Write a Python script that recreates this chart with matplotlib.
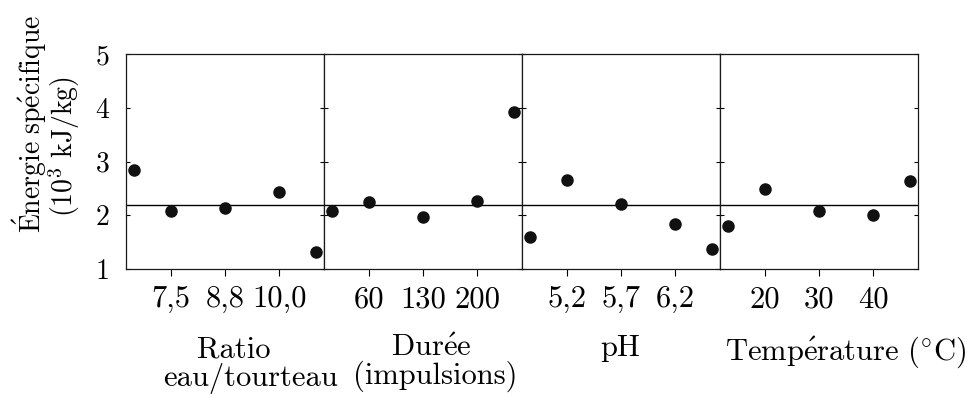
import matplotlib
matplotlib.use('Agg')
import matplotlib.pyplot as plt

plt.rcParams['mathtext.fontset'] = 'cm'
plt.rcParams['font.family'] = ['cmr10', 'DejaVu Serif']
plt.rcParams['axes.unicode_minus'] = False
plt.rcParams['axes.formatter.use_mathtext'] = True

# ---- data ----
levels = [-1.682, -1.0, 0.0, 1.0, 1.682]          # coded factor levels
tick_positions = [-1.0, 0.0, 1.0]
ratio_ticks = ['7,5', '8,8', '10,0']
duree_ticks = ['60', '130', '200']
ph_ticks = ['5,2', '5,7', '6,2']
temp_ticks = ['20', '30', '40']

ratio_vals = [2.85, 2.08, 2.13, 2.43, 1.32]
duree_vals = [2.07, 2.25, 1.97, 2.26, 3.92]
ph_vals = [1.59, 2.66, 2.21, 1.83, 1.37]
temp_vals = [1.80, 2.49, 2.08, 2.00, 2.64]
mean_value = 2.2
y_ticks = [1, 2, 3, 4, 5]

panels = [(ratio_vals, ratio_ticks), (duree_vals, duree_ticks),
          (ph_vals, ph_ticks), (temp_vals, temp_ticks)]

# factor names (line, x_px, baseline_px, ha)
factor_texts = [
    ('Ratio', 234, 358, 'center'),
    ('eau/tourteau', 163, 386, 'left'),
    (r'$\mathrm{Dur\acute{e}e}$', 431, 356, 'center'),
    ('(impulsions)', 353, 384, 'left'),
    ('pH', 620, 356, 'center'),
    (r'$\mathrm{Temp\acute{e}rature\ (^{\circ}C)}$', 966, 360, 'right'),
]

W, H = 969, 395
fig = plt.figure(figsize=(W / 100, H / 100), dpi=100)

left_px, right_px, top_px, bot_px = 126, 918, 54, 269
pw = (right_px - left_px) / 4
fs = 22
fs_y = 20

for i, (vals, tlabels) in enumerate(panels):
    ax = fig.add_axes([(left_px + i * pw) / W, 1 - bot_px / H, pw / W, (bot_px - top_px) / H])
    ax.scatter(levels, vals, s=64, color='#111111', zorder=3)
    ax.axhline(mean_value, color='black', lw=1.0, zorder=2)
    ax.set_xlim(-1.83, 1.83)
    ax.set_ylim(1, 5)
    ax.set_xticks(tick_positions)
    ax.set_xticklabels(tlabels, fontsize=fs)
    ax.set_yticks(y_ticks)
    ax.tick_params(axis='x', direction='out', length=5, width=0.8, pad=7)
    ax.tick_params(axis='y', direction='in', length=3, width=0.8, left=True, right=True)
    if i == 0:
        ax.set_yticklabels([str(v) for v in y_ticks], fontsize=fs_y)
        ax.tick_params(axis='y', pad=12)
    else:
        ax.set_yticklabels([])
    for sp in ax.spines.values():
        sp.set_linewidth(0.9)
        sp.set_color('#1a1a1a')

for txt, x, yb, ha in factor_texts:
    fig.text(x / W, 1 - yb / H, txt, fontsize=fs, ha=ha, va='baseline')

fig.text(30 / W, 1 - 124 / H, r'$\mathrm{\acute{E}nergie\ sp\acute{e}cifique}$',
         rotation=90, fontsize=fs_y, ha='center', va='center')
fig.text(64 / W, 1 - 147 / H, r'$\mathrm{(10^3\ kJ/kg)}$',
         rotation=90, fontsize=fs_y, ha='center', va='center')

fig.savefig('out.png', dpi=100)
